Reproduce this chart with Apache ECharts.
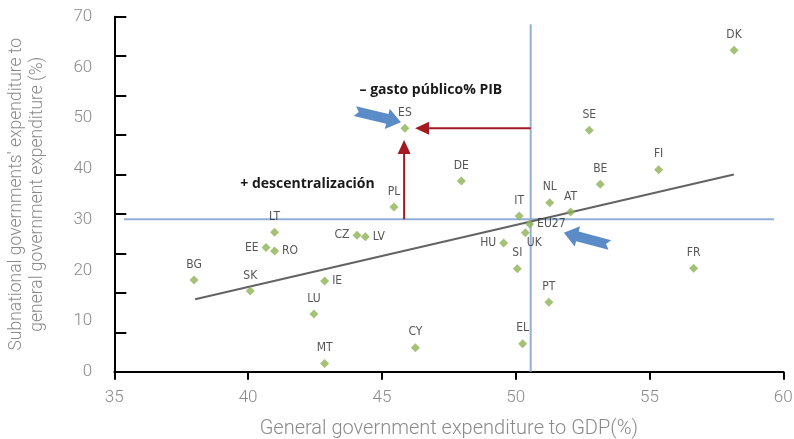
<!DOCTYPE html>
<html>
<head>
<meta charset="utf-8">
<script src="https://cdn.jsdelivr.net/npm/echarts@6/dist/echarts.min.js"></script>
<style>
html,body{margin:0;padding:0;background:#fff;}
#c{width:794px;height:439px;}
</style>
</head>
<body>
<div id="c"></div>
<script>
// ---- data ----
const countries = ['DK','SE','FI','BE','NL','AT','IT','DE','ES','PL','LT','CZ','LV','EE','RO','BG','SK','IE','LU','MT','CY','EU27','UK','HU','SI','FR','PT','EL'];
const govExpGDP = [58.16,52.75,55.34,53.16,51.27,52.05,50.13,47.97,45.86,45.45,40.99,44.07,44.38,40.67,40.99,37.98,40.08,42.86,42.46,42.86,46.25,50.52,50.36,49.55,50.06,56.65,51.24,50.26];
const subShare  = [63.4,47.6,39.8,36.95,33.3,31.5,30.7,37.6,48.0,32.5,27.5,26.9,26.6,24.5,23.8,18.1,15.9,17.9,11.4,1.6,4.7,29.1,27.4,25.4,20.3,20.4,13.7,5.5];
const labelSide = ['top','top','top','top','top','top','top','top','top','top','top','left','right','left','right','top','top','right','top','top','top','right','bottomright','left','top','top','top','top'];
const xTicks = [35,40,45,50,55,60];
const yTicks = [0,10,20,30,40,50,60,70];
const trendLine = [[38.02,14.3],[58.15,38.9]];
const refVertical = [[50.56,0],[50.56,68.5]];
const refHorizontal = [[35.36,30.05],[59.65,30.05]];
const blockArrows = [[43.99,51.4,45.71,49.2],[53.52,24.98,51.80,27.4]];
const redArrows = [[45.83,30.05,45.83,45.7],[50.56,48.0,46.24,48.0]];
const noteTexts = ['– gasto público% PIB','+ descentralización'];
const noteX = [46.83,42.22];
const noteY = [55.55,37.0];

// ---- chart ----
const chart = echarts.init(document.getElementById('c'), null, {renderer:'canvas'});
const GRAY = '#8a8a8a';
const tickFont = {color:GRAY, fontSize:17, fontFamily:'Roboto, "Open Sans", sans-serif', fontWeight:300};
const gridBox = {left:114.3, right:10.7, top:16.7, bottom:67.3, containLabel:false, outerBoundsMode:'none'};

const scatterData = countries.map((c,i)=>{
  const side = labelSide[i];
  const lab = {};
  if (side === 'bottomright') { lab.position = 'bottom'; lab.offset = [9,-5]; }
  else { lab.position = side; }
  if (side === 'left' || side === 'right') lab.distance = 3;
  return {name:c, value:[govExpGDP[i], subShare[i]], label:lab};
});

function arrowBlock(params, api){
  const p1 = api.coord([api.value(0), api.value(1)]);
  const p2 = api.coord([api.value(2), api.value(3)]);
  const dx = p2[0]-p1[0], dy = p2[1]-p1[1];
  const L = Math.sqrt(dx*dx+dy*dy);
  const d = [dx/L, dy/L], n = [-d[1], d[0]];
  const sw = 5, hw = 10.5, hl = 14, nd = 4;
  const hb = [p2[0]-d[0]*hl, p2[1]-d[1]*hl];
  const pts = [
    [p1[0]+n[0]*sw, p1[1]+n[1]*sw],
    [hb[0]+n[0]*sw, hb[1]+n[1]*sw],
    [hb[0]+n[0]*hw, hb[1]+n[1]*hw],
    p2,
    [hb[0]-n[0]*hw, hb[1]-n[1]*hw],
    [hb[0]-n[0]*sw, hb[1]-n[1]*sw],
    [p1[0]-n[0]*sw, p1[1]-n[1]*sw],
    [p1[0]+d[0]*nd, p1[1]+d[1]*nd]
  ];
  return {type:'polygon', shape:{points:pts}, style:{fill:'#5b8cc8'}};
}
function arrowRed(params, api){
  const p1 = api.coord([api.value(0), api.value(1)]);
  const p2 = api.coord([api.value(2), api.value(3)]);
  const dx = p2[0]-p1[0], dy = p2[1]-p1[1];
  const L = Math.sqrt(dx*dx+dy*dy);
  const d = [dx/L, dy/L], n = [-d[1], d[0]];
  const hl = 14, hw = 6.5;
  const hb = [p2[0]-d[0]*hl, p2[1]-d[1]*hl];
  return {type:'group', children:[
    {type:'line', shape:{x1:p1[0],y1:p1[1],x2:hb[0],y2:hb[1]}, style:{stroke:'#a31a22', lineWidth:2}},
    {type:'polygon', shape:{points:[p2,[hb[0]+n[0]*hw,hb[1]+n[1]*hw],[hb[0]-n[0]*hw,hb[1]-n[1]*hw]]}, style:{fill:'#a31a22'}}
  ]};
}
function noteItem(params, api){
  const p = api.coord([api.value(0), api.value(1)]);
  return {type:'text', x:p[0], y:p[1], style:{text:noteTexts[params.dataIndex], align:'center', verticalAlign:'middle', fill:'#1a1a1a', font:'bold 14px "Open Sans", "Noto Sans", sans-serif'}};
}

const option = {
  animation:false,
  backgroundColor:'#fff',
  grid:[Object.assign({}, gridBox), Object.assign({}, gridBox)],
  xAxis:[{
    type:'value', min:35, max:60, interval:5, gridIndex:0,
    name:'General government expenditure to GDP(%)', nameLocation:'middle', nameGap:47,
    nameTextStyle:{color:GRAY, fontSize:20, fontFamily:'Roboto, "Open Sans", sans-serif', fontWeight:300},
    axisLine:{show:true, lineStyle:{color:'#000', width:2}},
    axisTick:{show:true, inside:false, length:8, lineStyle:{color:'#000', width:2}},
    axisLabel:Object.assign({margin:18, formatter:v=>xTicks.includes(v)?String(v):''}, tickFont),
    splitLine:{show:false}
  },{
    type:'value', min:35, max:60, gridIndex:1, show:false
  }],
  yAxis:[{
    type:'value', min:0, max:70, interval:10, gridIndex:0,
    name:"Subnational governments' expenditure to\ngeneral government expenditure (%)", nameLocation:'middle', nameGap:66,
    nameTextStyle:{color:GRAY, fontSize:17.5, lineHeight:21, fontFamily:'Roboto, "Open Sans", sans-serif', fontWeight:300},
    axisLine:{show:true, lineStyle:{color:'#000', width:2}},
    axisTick:{show:false},
    axisLabel:Object.assign({margin:22, formatter:v=>yTicks.includes(v)?String(v):''}, tickFont),
    splitLine:{show:false}
  },{
    type:'value', min:0, max:90, interval:10, position:'left', gridIndex:1,
    axisLine:{show:false},
    axisTick:{show:true, inside:true, length:12, lineStyle:{color:'#000', width:2}},
    axisLabel:{show:false}, splitLine:{show:false}
  }],
  series:[
    {type:'line', data:refVertical, symbol:'none', silent:true, lineStyle:{color:'#92afd9', width:2}, z:1},
    {type:'line', data:refHorizontal, symbol:'none', silent:true, lineStyle:{color:'#92afd9', width:2}, z:1},
    {type:'line', data:trendLine, symbol:'none', silent:true, lineStyle:{color:'#636363', width:2}, z:2},
    {type:'custom', renderItem:arrowRed, data:redArrows, z:3, silent:true},
    {type:'custom', renderItem:arrowBlock, data:blockArrows, z:4, silent:true},
    {type:'scatter', data:scatterData, symbol:'diamond', symbolSize:9,
      itemStyle:{color:'#8db354'}, z:5,
      label:{show:true, formatter:'{b}', color:'#2b2b2b', fontSize:12, fontFamily:'"DejaVu Sans Condensed", "Liberation Sans Narrow", sans-serif'}},
    {type:'custom', renderItem:noteItem, data:noteX.map((x,i)=>[x,noteY[i]]), z:6, silent:true}
  ]
};
chart.setOption(option);
</script>
</body>
</html>
